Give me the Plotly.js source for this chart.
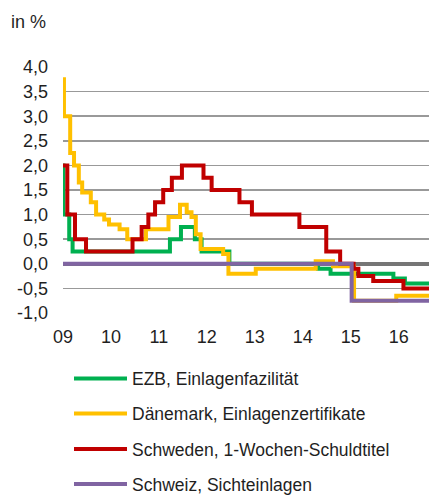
<!DOCTYPE html>
<html>
<head>
<meta charset="utf-8">
<script src="https://cdn.plot.ly/plotly-3.0.1.min.js"></script>
<style>
html,body{margin:0;padding:0;background:#fff;}
#chart{width:429px;height:495px;}
</style>
</head>
<body>
<div id="chart"></div>
<script>
// ---- data (decimal years, step series, values in %) ----
const ezbX = [2009.00, 2009.01, 2009.13, 2009.20, 2011.23, 2011.46, 2011.75, 2011.89, 2012.47, 2014.32, 2014.58, 2015.89, 2016.13, 2016.64];
const ezbY = [2.0, 1.0, 0.5, 0.25, 0.5, 0.75, 0.5, 0.25, 0.0, -0.1, -0.2, -0.3, -0.4, -0.4];

const dkX = [2009.00, 2009.02, 2009.15, 2009.23, 2009.33, 2009.40, 2009.58, 2009.69, 2009.86, 2009.96, 2010.18, 2010.34, 2010.73, 2011.20, 2011.44, 2011.58, 2011.68, 2011.77, 2011.87, 2012.34, 2012.45, 2013.02, 2014.27, 2014.63, 2015.07, 2015.95, 2016.64];
const dkY = [3.75, 3.0, 2.25, 2.0, 1.65, 1.45, 1.25, 1.0, 0.9, 0.8, 0.7, 0.5, 0.7, 0.95, 1.2, 1.05, 0.95, 0.6, 0.3, 0.2, -0.2, -0.1, 0.05, -0.05, -0.75, -0.65, -0.65];

const seX = [2009.00, 2009.09, 2009.25, 2009.48, 2010.45, 2010.64, 2010.78, 2010.92, 2011.09, 2011.27, 2011.48, 2011.93, 2012.10, 2012.68, 2012.94, 2013.93, 2014.49, 2014.78, 2015.06, 2015.16, 2015.47, 2016.10, 2016.64];
const seY = [2.0, 1.0, 0.5, 0.25, 0.5, 0.75, 1.0, 1.25, 1.5, 1.75, 2.0, 1.75, 1.5, 1.25, 1.0, 0.75, 0.25, 0.0, -0.1, -0.25, -0.35, -0.5, -0.5];

const chX = [2009.00, 2015.02, 2016.64];
const chY = [0.0, -0.75, -0.75];

const seriesNames = ["EZB, Einlagenfazilität", "Dänemark, Einlagenzertifikate", "Schweden, 1-Wochen-Schuldtitel", "Schweiz, Sichteinlagen"];
const xTickVals = [2009, 2010, 2011, 2012, 2013, 2014, 2015, 2016];
const xTickText = ["09", "10", "11", "12", "13", "14", "15", "16"];
const yTickVals = [-1, -0.5, 0, 0.5, 1, 1.5, 2, 2.5, 3, 3.5, 4];
const yTickText = ["-1,0", "-0,5", "0,0", "0,5", "1,0", "1,5", "2,0", "2,5", "3,0", "3,5", "4,0"];
const unitLabel = "in %";

// ---- styling / layout ----
const colors = ["#00B050", "#FFC000", "#C00000", "#8064A2"];
const W = 429, H = 495, ML = 63, MR = 0, MT = 67, MB = 182;
const FONT = "Liberation Sans, Arial, sans-serif";
const FS = 18, LFS = 17.5;
const TXT = "#1f1f1f";
function pxX(px){ return (px - ML) / (W - ML - MR); }
function pxY(py){ return (H - MB - py) / (H - MT - MB); }

const xs = [ezbX, dkX, seX, chX];
const ys = [ezbY, dkY, seY, chY];
const traces = xs.map((x, i) => ({
  type: "scatter", mode: "lines", x: x, y: ys[i], name: seriesNames[i],
  line: {color: colors[i], width: 4, shape: "hv"},
  showlegend: false, hoverinfo: "skip"
}));

const legendRows = [378.5, 413.5, 449, 484];
const shapes = [];
const annotations = [{
  xref: "paper", yref: "paper", x: pxX(9), y: pxY(22), xanchor: "left", yanchor: "middle",
  text: unitLabel, showarrow: false, font: {family: FONT, size: FS, color: TXT}
}];
seriesNames.forEach((n, i) => {
  shapes.push({type: "line", xref: "paper", yref: "paper",
    x0: pxX(74), x1: pxX(127), y0: pxY(legendRows[i]), y1: pxY(legendRows[i]),
    line: {color: colors[i], width: 4}});
  annotations.push({xref: "paper", yref: "paper", x: pxX(130), y: pxY(legendRows[i] + 0.5),
    xanchor: "left", yanchor: "middle", text: n, showarrow: false,
    font: {family: FONT, size: LFS, color: TXT}});
});

const layout = {
  width: W, height: H,
  margin: {l: ML, r: MR, t: MT, b: MB, pad: 0},
  paper_bgcolor: "#fff", plot_bgcolor: "#fff",
  showlegend: false,
  font: {family: FONT, size: FS, color: TXT},
  xaxis: {
    range: [2009, 2009 + (W - ML - MR) / 47.95],
    tickvals: xTickVals, ticktext: xTickText,
    showgrid: false, zeroline: false, showline: false,
    ticks: "", ticklabelstandoff: 11,
    tickfont: {family: FONT, size: FS, color: TXT}
  },
  yaxis: {
    range: [-1, 4],
    tickvals: yTickVals, ticktext: yTickText,
    showgrid: true, gridcolor: "#999999", gridwidth: 1.5,
    zeroline: true, zerolinecolor: "#767676", zerolinewidth: 4,
    showline: false, ticks: "", ticklabelstandoff: 14,
    tickfont: {family: FONT, size: FS, color: TXT}
  },
  shapes: shapes,
  annotations: annotations
};

Plotly.newPlot("chart", traces, layout, {staticPlot: true, displayModeBar: false});
</script>
</body>
</html>
